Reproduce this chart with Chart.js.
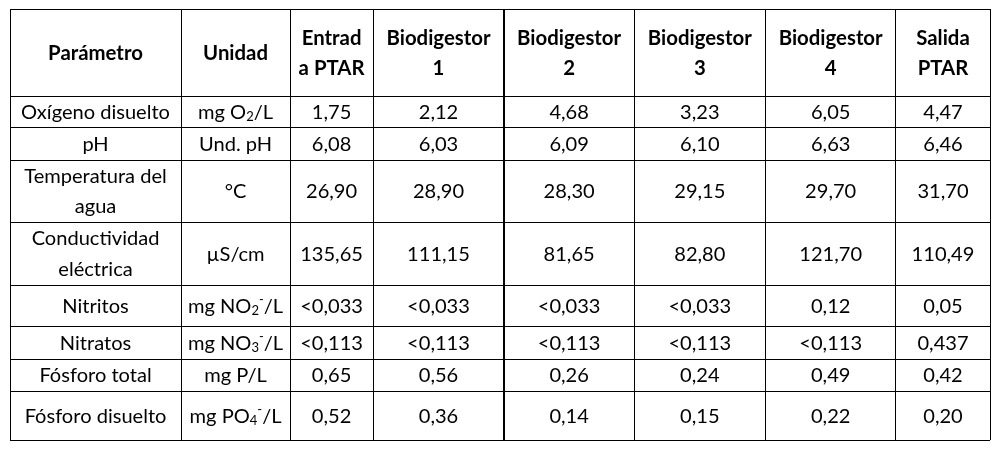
<!DOCTYPE html>
<html><head><meta charset="utf-8">
<script src="https://cdn.jsdelivr.net/npm/chart.js@4.4.1/dist/chart.umd.min.js"></script>
<style>html,body{margin:0;padding:0;background:#fff;}canvas{display:block;}</style>
</head><body>
<canvas id="c" width="1003" height="464"></canvas>
<script>
// ---- data ----
const headers = ["Parámetro","Unidad","Entrad\na PTAR","Biodigestor\n1","Biodigestor\n2","Biodigestor\n3","Biodigestor\n4","Salida\nPTAR"];
const parametros = ["Oxígeno disuelto","pH","Temperatura del\nagua","Conductividad\neléctrica","Nitritos","Nitratos","Fósforo total","Fósforo disuelto"];
const unidades = ["mg O₂/L","Und. pH","°C","µS/cm","mg NO₂⁻/L","mg NO₃⁻/L","mg P/L","mg PO₄⁻/L"];
const entradaPTAR = ["1,75","6,08","26,90","135,65","<0,033","<0,113","0,65","0,52"];
const biodigestor1 = ["2,12","6,03","28,90","111,15","<0,033","<0,113","0,56","0,36"];
const biodigestor2 = ["4,68","6,09","28,30","81,65","<0,033","<0,113","0,26","0,14"];
const biodigestor3 = ["3,23","6,10","29,15","82,80","<0,033","<0,113","0,24","0,15"];
const biodigestor4 = ["6,05","6,63","29,70","121,70","0,12","<0,113","0,49","0,22"];
const salidaPTAR = ["4,47","6,46","31,70","110,49","0,05","0,437","0,42","0,20"];

// ---- layout (sizes, not data) ----
const colWidths = [171, 109, 83, 130.8, 130.4, 131, 130.6, 94];
const rowHeights = [87, 32, 32, 62, 63, 41, 33, 32, 49];
const thickColBoundary = 4;
const FONT = "Lato, 'Noto Sans', sans-serif";
const LINE_GAP = 30.5;

const columns = [parametros, unidades, entradaPTAR, biodigestor1, biodigestor2, biodigestor3, biodigestor4, salidaPTAR];

const cum = a => a.reduce((acc, w) => { acc.push(acc[acc.length-1] + w); return acc; }, [0]);
const colBounds = cum(colWidths);
const rowBounds = cum(rowHeights);
const colCenter = j => (colBounds[j] + colBounds[j+1]) / 2;
const rowCenter = i => (rowBounds[i] + rowBounds[i+1]) / 2;

const datasets = columns.map((col, j) => ({
  label: headers[j],
  data: [headers[j], ...col].map((t, i) => ({ x: colCenter(j), y: rowCenter(i), text: t, head: i === 0 })),
  pointRadius: 0,
  showLine: false
}));

// sizing to approximate the reference metrics
const mctx = document.createElement('canvas').getContext('2d');
mctx.font = "20px " + FONT;
const normalSize = 20 * 149 / mctx.measureText("Oxígeno disuelto").width;
mctx.font = "bold 20px " + FONT;
const boldSize = 20 * 104 / mctx.measureText("Biodigestor").width;

const SUB = { '₂': '2', '₃': '3', '₄': '4' };
const SUP = { '⁻': '-' };

function segs(str) {
  const out = [];
  for (const ch of str) {
    const kind = SUB[ch] ? 'sub' : SUP[ch] ? 'sup' : 'n';
    const c = SUB[ch] || SUP[ch] || ch;
    if (out.length && out[out.length-1].kind === kind) out[out.length-1].t += c;
    else out.push({ kind, t: c });
  }
  return out;
}

function drawLine(ctx, str, cx, baseline, size, bold) {
  const w = bold ? 'bold ' : '';
  const small = size * 0.65;
  const parts = segs(str);
  let total = 0;
  parts.forEach(p => {
    ctx.font = w + (p.kind === 'n' ? size : small) + 'px ' + FONT;
    p.w = ctx.measureText(p.t).width;
    total += p.w;
  });
  let x = cx - total / 2;
  parts.forEach(p => {
    ctx.font = w + (p.kind === 'n' ? size : small) + 'px ' + FONT;
    let y = baseline;
    if (p.kind === 'sub') y += size * 0.12;
    if (p.kind === 'sup') y -= size * 0.42;
    ctx.fillText(p.t, x, y);
    x += p.w;
  });
}

const tablePlugin = {
  id: 'tableText',
  afterDatasetsDraw(chart) {
    const ctx = chart.ctx;
    ctx.save();
    ctx.fillStyle = '#000';
    ctx.textAlign = 'left';
    ctx.textBaseline = 'alphabetic';
    chart.data.datasets.forEach((ds, di) => {
      const meta = chart.getDatasetMeta(di);
      meta.data.forEach((el, i) => {
        const d = ds.data[i];
        const size = d.head ? boldSize : normalSize;
        ctx.font = (d.head ? 'bold ' : '') + size + 'px ' + FONT;
        const capH = ctx.measureText('0').actualBoundingBoxAscent;
        const lines = d.text.split('\n');
        const n = lines.length;
        lines.forEach((ln, k) => {
          const cy = el.y + (k - (n - 1) / 2) * LINE_GAP;
          drawLine(ctx, ln, el.x, cy + capH / 2, size, d.head);
        });
      });
    });
    ctx.restore();
  }
};

new Chart(document.getElementById('c'), {
  type: 'scatter',
  data: { datasets },
  options: {
    responsive: false,
    animation: false,
    events: [],
    layout: { padding: { left: 10, top: 9, right: 13, bottom: 24 } },
    plugins: { legend: { display: false }, tooltip: { enabled: false } },
    scales: {
      x: {
        type: 'linear', min: 0, max: colBounds[colBounds.length-1],
        afterBuildTicks: s => { s.ticks = colBounds.map(v => ({ value: v })); },
        ticks: { display: false },
        grid: { color: '#000', lineWidth: c => c.index === thickColBoundary ? 2 : 1, drawTicks: false, tickLength: 0 },
        border: { display: false }
      },
      y: {
        type: 'linear', reverse: true, min: 0, max: rowBounds[rowBounds.length-1],
        afterBuildTicks: s => { s.ticks = rowBounds.map(v => ({ value: v })); },
        ticks: { display: false },
        grid: { color: '#000', lineWidth: 1, drawTicks: false, tickLength: 0 },
        border: { display: false }
      }
    }
  },
  plugins: [tablePlugin]
});
</script>
</body></html>
